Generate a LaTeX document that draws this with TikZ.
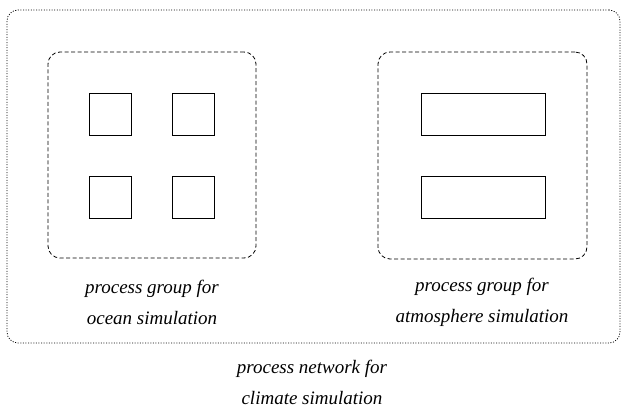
\documentclass[tikz,border=0pt]{standalone}
\usepackage{fontspec}
\setmainfont{Liberation Serif}
\begin{document}
\begin{tikzpicture}[x=1pt,y=-1pt,
  proc/.style={draw, line width=0.9pt, inner sep=0pt, minimum width=#1, minimum height=42pt},
  grp/.style={draw, line width=0.8pt, dash pattern=on 4pt off 2.5pt, rounded corners=12pt, inner sep=0pt},
  net/.style={draw, line width=0.8pt, dash pattern=on 1pt off 1.6pt, rounded corners=11pt, inner sep=0pt},
  lbl/.style={align=center, font=\fontsize{19}{31}\selectfont\itshape, inner sep=0pt}]
\useasboundingbox (0,0) rectangle (624,408);
% outer network
\node[net, minimum width=613pt, minimum height=333pt] (network) at (313.5,176.5) {};
% groups
\node[grp, minimum width=208pt, minimum height=206pt] (ocean) at (152,155) {};
\node[grp, minimum width=209pt, minimum height=207pt] (atmos) at (482.5,155.5) {};
% ocean processes
\node[proc=42pt] (o1) at (110,114) {};
\node[proc=42pt] (o2) at (193,114) {};
\node[proc=42pt] (o3) at (110,197) {};
\node[proc=42pt] (o4) at (193,197) {};
% atmosphere processes
\node[proc=124pt] (a1) at (483,114) {};
\node[proc=124pt] (a2) at (483,197) {};
% labels
\node[lbl] (oceanlbl) at (152,302.5) {process group for\\ocean simulation};
\node[lbl] (atmoslbl) at (482,302.5) {process group for\\atmosphere simulation};
\node[lbl] (netlbl) at (312,382.5) {process network for\\climate simulation};
\end{tikzpicture}
\end{document}
